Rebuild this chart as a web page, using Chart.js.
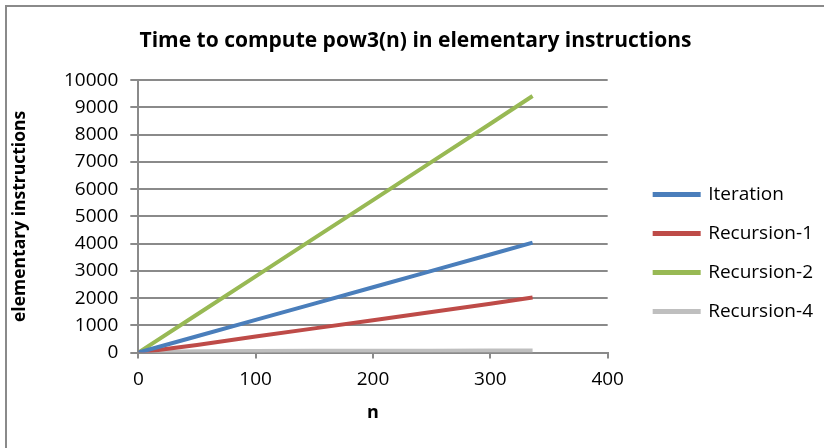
<!DOCTYPE html>
<html>
<head>
<meta charset="utf-8">
<script src="https://cdn.jsdelivr.net/npm/chart.js@4.4.0/dist/chart.umd.min.js"></script>
<style>
  html, body { margin: 0; padding: 0; background: #fff; }
  canvas { display: block; }
</style>
</head>
<body>
<canvas id="powChart" width="824" height="448"></canvas>
<script>
// valores
const nValues = [0, 50, 100, 150, 200, 250, 300, 336];
const iteration = [0, 600, 1200, 1800, 2400, 3000, 3600, 4040];
const recursion1 = [0, 280, 590, 890, 1190, 1490, 1790, 2020];
const recursion2 = [0, 1400, 2800, 4200, 5600, 7000, 8400, 9420];
const recursion4 = [10, 50, 60, 65, 70, 70, 75, 75];
const seriesNames = ['Iteration', 'Recursion-1', 'Recursion-2', 'Recursion-4'];
const seriesColors = ['#4a7ebb', '#be4b48', '#98b954', '#bfbfbf'];
const xTicks = [0, 100, 200, 300, 400];
const yTicks = [0, 1000, 2000, 3000, 4000, 5000, 6000, 7000, 8000, 9000, 10000];

const FONT = "'Open Sans', 'Liberation Sans', sans-serif";
const LEGEND_GAP = 27;
const LEGEND_DY = 36;

function toPoints(ys) {
    return nValues.map((n, i) => ({ x: n, y: ys[i] }));
}

// marco gris del area del grafico
const frame = {
    id: 'frame',
    beforeDraw(chart) {
        const ctx = chart.ctx;
        ctx.save();
        ctx.fillStyle = '#fff';
        ctx.fillRect(0, 0, chart.width, chart.height);
        ctx.strokeStyle = '#8a8a8a';
        ctx.lineWidth = 2;
        ctx.strokeRect(6, 6, chart.width + 20, chart.height + 20);
        ctx.restore();
    }
};

// deja un hueco entre el area del grafico y la leyenda, y la baja un poco
const legendGap = {
    id: 'legendGap',
    beforeLayout(chart) {
        const lg = chart.legend;
        if (!lg || lg._gapDone) return;
        const fit = lg.fit.bind(lg);
        const draw = lg.draw.bind(lg);
        lg.fit = function () { fit(); this.width += LEGEND_GAP; };
        lg.draw = function (area) {
            this.left += LEGEND_GAP;
            this.top += LEGEND_DY;
            this.bottom += LEGEND_DY;
            draw(area);
            this.left -= LEGEND_GAP;
            this.top -= LEGEND_DY;
            this.bottom -= LEGEND_DY;
        };
        lg._gapDone = true;
    }
};

const allSeries = [iteration, recursion1, recursion2, recursion4];

new Chart(document.getElementById('powChart').getContext('2d'), {
    type: 'scatter',
    data: {
        datasets: allSeries.map((ys, i) => ({
            label: seriesNames[i],
            data: toPoints(ys),
            showLine: true,
            borderColor: seriesColors[i],
            backgroundColor: seriesColors[i],
            borderWidth: 4,
            pointRadius: 0,
            pointHoverRadius: 0,
            tension: 0
        }))
    },
    options: {
        responsive: false,
        animation: false,
        layout: { padding: { left: 8, right: 1, top: 10, bottom: 24 } },
        plugins: {
            title: {
                display: true,
                text: 'Time to compute pow3(n) in elementary instructions',
                color: '#000',
                font: { family: FONT, size: 21, weight: 'bold' },
                padding: { top: 18, bottom: 27 }
            },
            legend: {
                position: 'right',
                labels: {
                    color: '#000',
                    font: { family: FONT, size: 19 },
                    boxWidth: 44,
                    boxHeight: 1,
                    padding: 20
                }
            },
            tooltip: { enabled: false }
        },
        scales: {
            x: {
                type: 'linear',
                min: 0,
                max: 400,
                afterBuildTicks: axis => { axis.ticks = xTicks.map(v => ({ value: v })); },
                border: { color: '#8a8a8a', width: 2 },
                grid: { drawOnChartArea: false, drawTicks: true, tickLength: 6, color: '#8a8a8a', lineWidth: 2 },
                ticks: { color: '#000', font: { family: FONT, size: 19 }, padding: 10, callback: v => String(v) },
                title: {
                    display: true,
                    text: 'n',
                    color: '#000',
                    font: { family: FONT, size: 18, weight: 'bold' },
                    padding: { top: 1, bottom: 0 }
                }
            },
            y: {
                min: 0,
                max: 10000,
                afterBuildTicks: axis => { axis.ticks = yTicks.map(v => ({ value: v })); },
                border: { color: '#8a8a8a', width: 2 },
                grid: { color: '#8a8a8a', lineWidth: 2, tickLength: 8 },
                ticks: { color: '#000', font: { family: FONT, size: 19 }, padding: 12, callback: v => String(v) },
                title: {
                    display: true,
                    text: 'elementary instructions',
                    color: '#000',
                    font: { family: FONT, size: 17.5, weight: 'bold' },
                    padding: { top: 2, bottom: 21 }
                }
            }
        }
    },
    plugins: [frame, legendGap]
});
</script>
</body>
</html>
